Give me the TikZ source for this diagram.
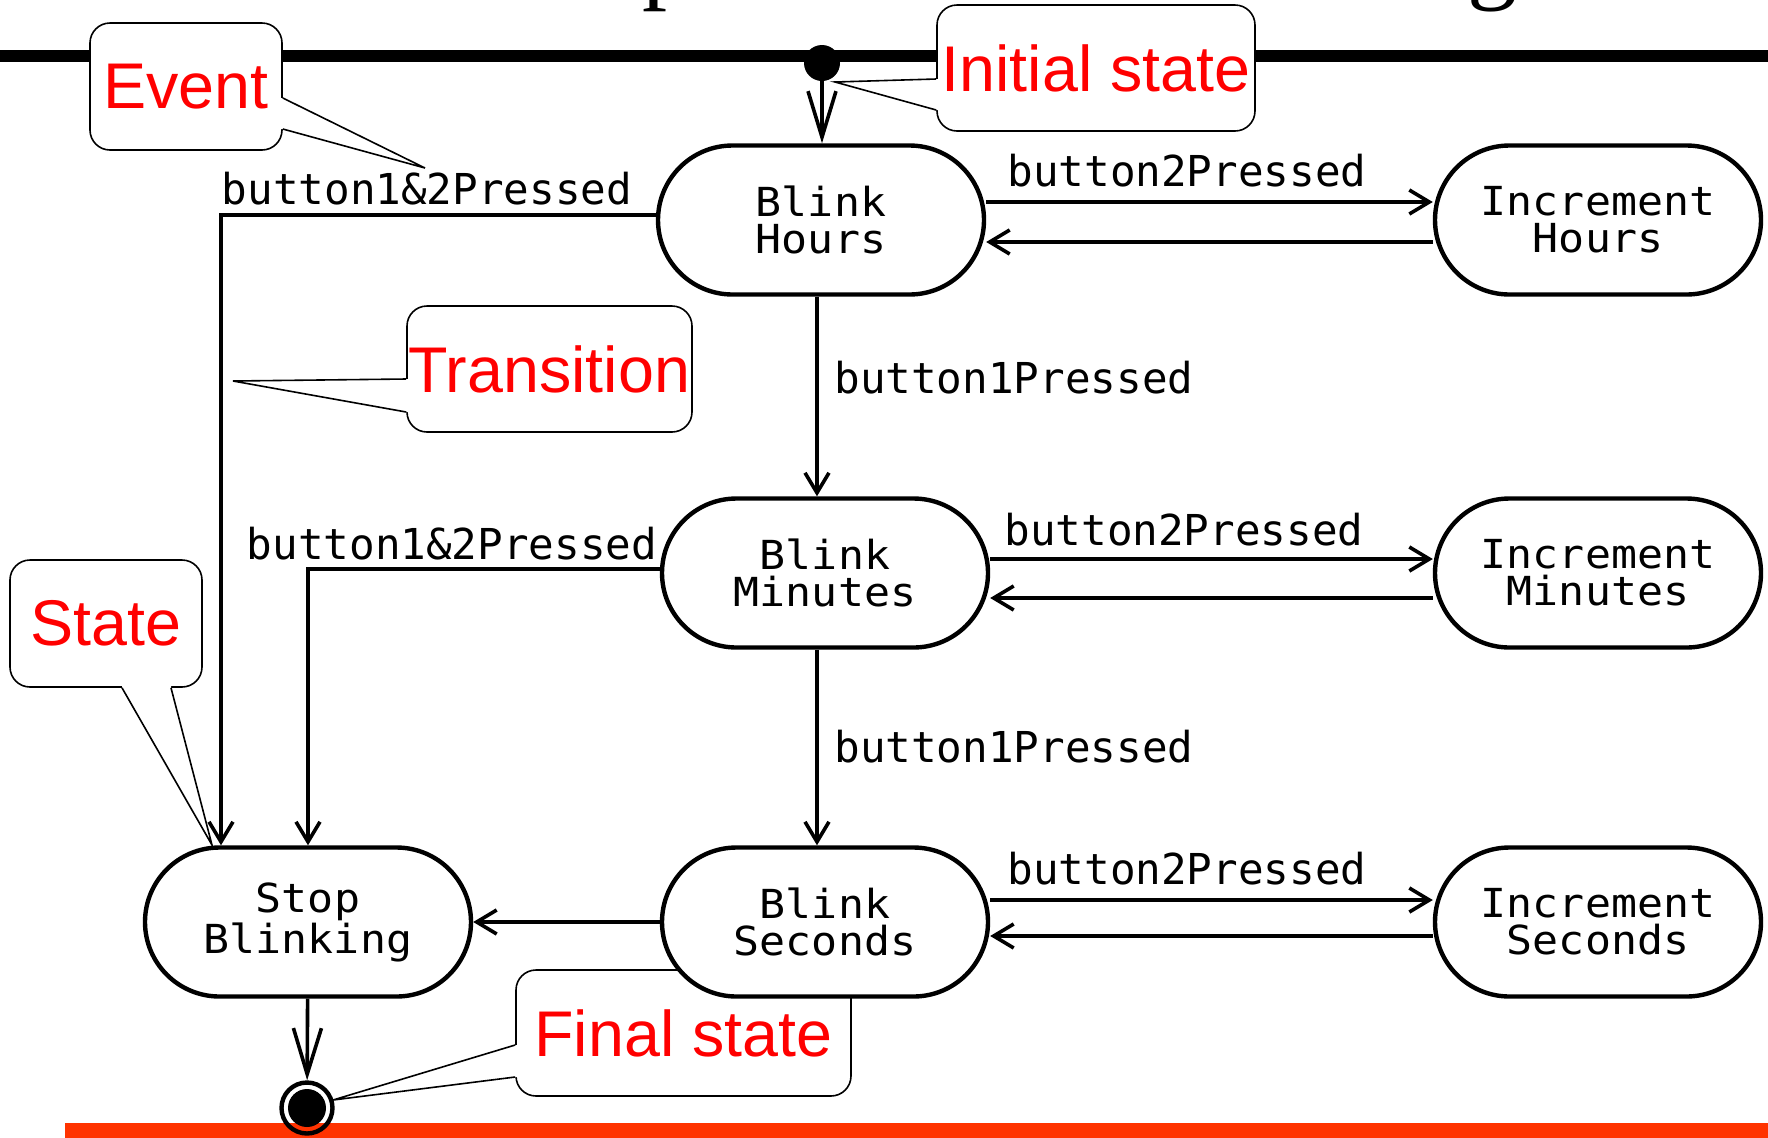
\documentclass[tikz,border=0pt]{standalone}
\usepackage{fontspec}
\usepackage{tikz}
\usetikzlibrary{%
  arrows.meta,%
  shapes.misc%
}
\newfontfamily\notefont{Liberation Sans}
\newfontfamily\codefont{DejaVu Sans Mono}
\newfontfamily\statefont{DejaVu Sans Mono}[FakeStretch=1.08]
\newfontfamily\headfont{Liberation Serif}
\definecolor{notered}{RGB}{255,0,0}
\definecolor{barred}{RGB}{255,51,0}
\tikzset{
	statebox/.style={rounded rectangle, draw, line width=2.2pt, fill=white,
		minimum width=163pt, minimum height=74.5pt, inner sep=0pt, align=center,
		font=\statefont\fontsize{20}{18.5}\selectfont},
	trans/.style={line width=1.8pt, -{Straight Barb[length=10pt,width=12pt]}},
	pseudo/.style={line width=1.8pt, -{Straight Barb[length=23pt,width=14pt]}},
	evlabel/.style={anchor=base, inner sep=0pt, font=\codefont\fontsize{21.3}{21.3}\selectfont},
	note/.style={draw, line width=0.8pt, fill=white, rounded corners=10pt, inner sep=0pt,
		text=notered, font=\notefont\fontsize{32.3}{32.3}\selectfont},
	notetip/.style={line width=0.8pt},
	startdot/.style={circle, fill, inner sep=0pt, minimum size=18pt},
	enddot/.style={circle, draw, line width=2.2pt, inner sep=0pt, minimum size=25.5pt},
	titlebit/.style={anchor=base west, inner sep=0pt, font=\headfont\fontsize{50}{50}\selectfont},
}

\begin{document}
\begin{tikzpicture}[x=0.5pt,y=-0.5pt]
	\useasboundingbox (0,0) rectangle (1768,1137);
	%Rules
	\node[titlebit] (tp) at (642,-10) {p};
	\node[titlebit] (tg) at (1467,-10) {g};
	\draw[line width=6pt] (0,56) -- (1768,56);
	\fill[barred] (65,1123) rectangle (1768,1140);
	%Notes
	\node[note, minimum width=96pt, minimum height=63.5pt] (event) at (186,86.5) {Event};
	\node[note, minimum width=159pt, minimum height=63pt] (initnote) at (1096,68) {Initial state};
	\node[note, minimum width=142.5pt, minimum height=63pt] (transnote) at (549.5,369) {Transition};
	\node[note, minimum width=96pt, minimum height=63.5pt] (statenote) at (106,623.5) {State};
	\node[note, minimum width=167.5pt, minimum height=63pt] (finalnote) at (683.5,1033) {Final state};
	%Note pointers
	\coordinate (e1) at (event.east |- 0,98);
	\coordinate (e2) at (event.east |- 0,129);
	\coordinate (etip) at (425,168);
	\fill[white] (e1) -- (etip) -- (e2) -- ([xshift=-1pt]e2) -- ([xshift=-1pt]e1) -- cycle;
	\draw[notetip] (e1) -- (etip) -- (e2);
	\coordinate (i1) at (initnote.west |- 0,79);
	\coordinate (i2) at (initnote.west |- 0,110);
	\coordinate (itip) at (835,82);
	\fill[white] (i1) -- (itip) -- (i2) -- ([xshift=1pt]i2) -- ([xshift=1pt]i1) -- cycle;
	\draw[notetip] (i1) -- (itip) -- (i2);
	\coordinate (t1) at (transnote.west |- 0,379);
	\coordinate (t2) at (transnote.west |- 0,412);
	\coordinate (ttip) at (233,381);
	\fill[white] (t1) -- (ttip) -- (t2) -- ([xshift=1pt]t2) -- ([xshift=1pt]t1) -- cycle;
	\draw[notetip] (t1) -- (ttip) -- (t2);
	\coordinate (s1) at (statenote.south -| 122,0);
	\coordinate (s2) at (statenote.south -| 171,0);
	\coordinate (stip) at (212,845);
	\fill[white] (s1) -- (stip) -- (s2) -- ([yshift=1pt]s2) -- ([yshift=1pt]s1) -- cycle;
	\draw[notetip] (s1) -- (stip) -- (s2);
	\coordinate (f1) at (finalnote.west |- 0,1045);
	\coordinate (f2) at (finalnote.west |- 0,1077);
	\coordinate (ftip) at (333,1100);
	\fill[white] (f1) -- (ftip) -- (f2) -- ([xshift=1pt]f2) -- ([xshift=1pt]f1) -- cycle;
	\draw[notetip] (f1) -- (ftip) -- (f2);
	%States
	\node[startdot] (init) at (822,63) {};
	\node[statebox] (bh) at (821,220) {Blink\\Hours};
	\node[statebox] (ih) at (1598,220) {Increment\\Hours};
	\node[statebox] (bm) at (825,573) {Blink\\Minutes};
	\node[statebox] (im) at (1598,573) {Increment\\Minutes};
	\node[statebox] (bs) at (825,922) {Blink\\Seconds};
	\node[statebox] (is) at (1598,922) {Increment\\Seconds};
	\node[statebox] (sb) at (308,922) {Stop\\Blinking};
	\node[enddot] (fin) at (307,1108) {};
	\fill (fin.center) circle (9.5pt);
	%Labels
	\node[evlabel] (b2h) at (1187,186) {button2Pressed};
	\node[evlabel] (b2m) at (1184,545) {button2Pressed};
	\node[evlabel] (b2s) at (1187,884) {button2Pressed};
	\node[evlabel, anchor=base west] (b1h) at (834,393) {button1Pressed};
	\node[evlabel, anchor=base west] (b1m) at (834,762) {button1Pressed};
	\node[evlabel] (b12h) at (427,204) {button1\&2Pressed};
	\node[evlabel] (b12m) at (452,559) {button1\&2Pressed};
	%Right arrows
	\draw[trans] (bh.east |- 0,202) -- (ih.west |- 0,202);
	\draw[trans] (bm.east |- 0,559) -- (im.west |- 0,559);
	\draw[trans] (bs.east |- 0,900) -- (is.west |- 0,900);
	%Left arrows
	\draw[trans] (ih.west |- 0,242) -- (bh.east |- 0,242);
	\draw[trans] (im.west |- 0,598) -- (bm.east |- 0,598);
	\draw[trans] (is.west |- 0,936) -- (bs.east |- 0,936);
	\draw[trans] (bs) -- (sb);
	%Down arrows
	\draw[pseudo] (init) -- (bh.north -| init);
	\draw[trans] (bh.south -| 817,0) -- (bm.north -| 817,0);
	\draw[trans] (bm.south -| 817,0) -- (bs.north -| 817,0);
	\draw[trans] (bh.west |- 0,215) -| (sb.north -| 221,0);
	\draw[trans] (bm.west |- 0,569) -| (sb.north);
	\draw[pseudo] (sb) -- (fin);
\end{tikzpicture}
\end{document}
